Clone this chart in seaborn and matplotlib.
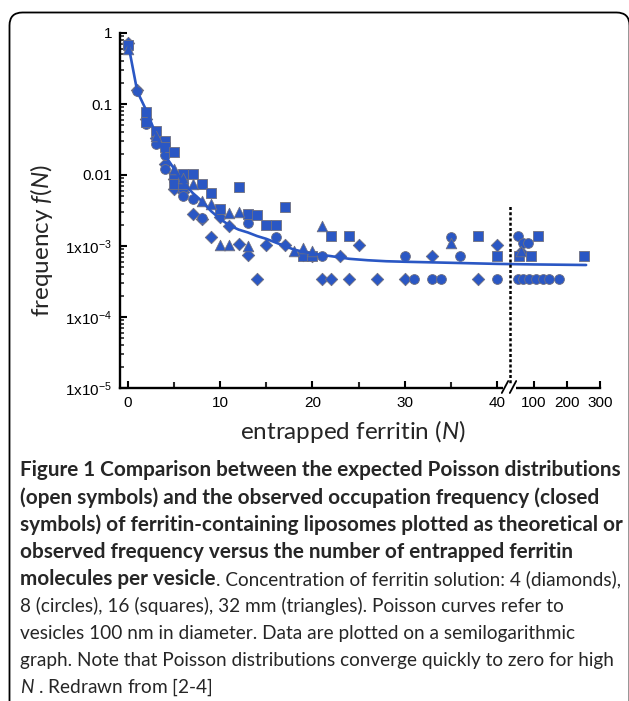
import numpy as np
import pandas as pd
import matplotlib
matplotlib.use("Agg")
import matplotlib.pyplot as plt
import seaborn as sns
from matplotlib.patches import FancyBboxPatch, Rectangle
from matplotlib.lines import Line2D
from matplotlib.transforms import IdentityTransform
from matplotlib.ticker import LogLocator, NullFormatter

# ---------------- data ----------------
diamond_n = [0, 1, 2, 3, 4, 5, 5, 6, 6, 7, 8, 9, 10, 11, 12, 13, 14, 15, 17, 19, 20,
             21, 22, 23, 24, 25, 27, 30, 33, 38, 40, 61]
diamond_f = [0.72, 0.155, 0.062, 0.033, 0.0142, 0.0088, 0.0063, 0.0058, 0.0068, 0.0028,
             0.0024, 0.00135, 0.0026, 0.0019, 0.00105, 0.00074, 0.00034, 0.00103,
             0.00103, 0.00075, 0.00072, 0.00034, 0.00034, 0.00072, 0.00034, 0.00103,
             0.00034, 0.00034, 0.00072, 0.00034, 0.00103, 0.00082]

circle_n = [0, 1, 2, 3, 4, 4, 5, 6, 6, 7, 8, 13, 16, 20, 21, 30, 31, 33, 34, 35, 36, 40,
            51, 66, 81, 53, 68, 86, 106, 128, 146, 177]
circle_f = [0.64, 0.15, 0.052, 0.027, 0.019, 0.012, 0.0085, 0.0064, 0.005, 0.0046,
            0.0025, 0.0021, 0.00135, 0.00072, 0.00072, 0.00072, 0.00034, 0.00034,
            0.00034, 0.00135, 0.00072, 0.00034, 0.0014, 0.00112, 0.00112, 0.00034,
            0.00034, 0.00034, 0.00034, 0.00034, 0.00034, 0.00034]

square_n = [0, 2, 2, 3, 4, 4, 5, 5, 5, 6, 6, 7, 8, 9, 10, 12, 13, 14, 15, 16, 17, 19,
            20, 22, 24, 38, 40, 55, 91, 111, 252]
square_f = [0.68, 0.076, 0.055, 0.042, 0.030, 0.025, 0.021, 0.0093, 0.0075, 0.0104,
            0.0075, 0.0104, 0.0075, 0.0055, 0.0033, 0.0068, 0.0028, 0.0027, 0.0020,
            0.0020, 0.0035, 0.00072, 0.00072, 0.0014, 0.0014, 0.0014, 0.00072,
            0.00072, 0.00072, 0.0014, 0.00072]

triangle_n = [0, 3, 5, 6, 7, 8, 9, 10, 11, 11, 12, 13, 18, 19, 20, 21, 35, 60]
triangle_f = [0.6, 0.036, 0.012, 0.009, 0.0075, 0.0043, 0.0039, 0.00102, 0.00102,
              0.0029, 0.0030, 0.00099, 0.00085, 0.00095, 0.00085, 0.0019, 0.0011,
              0.00085]

curve_n = [0, 1, 2, 3, 4, 5, 6, 7, 8, 9, 10, 11, 12, 13, 14, 15, 16, 17, 18, 19, 20,
           22, 24, 26, 28, 30, 35, 40, 100, 258]
curve_f = [0.72, 0.15, 0.08, 0.038, 0.019, 0.0122, 0.0078, 0.0056, 0.0043, 0.0031,
           0.0024, 0.00195, 0.0017, 0.00155, 0.00138, 0.00126, 0.00112, 0.001, 0.00089,
           0.00083, 0.00078, 0.00072, 0.00066, 0.00063, 0.00061, 0.0006, 0.00058,
           0.00056, 0.00055, 0.00054]

x_ticks = [0, 10, 20, 30, 40, 100, 200, 300]
x_tick_labels = ["0", "10", "20", "30", "40", "100", "200", "300"]
x_minor_ticks = [5, 15, 25, 35]
y_ticks = [1e-5, 1e-4, 1e-3, 1e-2, 1e-1, 1]
y_tick_labels = [r"$\mathregular{1x10^{-5}}$", r"$\mathregular{1x10^{-4}}$",
                 r"$\mathregular{1x10^{-3}}$", "0.01", "0.1", "1"]

caption_bold = [
    "Figure 1 Comparison between the expected Poisson distributions",
    "(open symbols) and the observed occupation frequency (closed",
    "symbols) of ferritin-containing liposomes plotted as theoretical or",
    "observed frequency versus the number of entrapped ferritin",
]
caption_mixed_bold = "molecules per vesicle"
caption_mixed_regular = ". Concentration of ferritin solution: 4 (diamonds),"
caption_regular = [
    "8 (circles), 16 (squares), 32 mm (triangles). Poisson curves refer to",
    "vesicles 100 nm in diameter. Data are plotted on a semilogarithmic",
    "graph. Note that Poisson distributions converge quickly to zero for high",
    r"$N$ . Redrawn from [2-4]",
]

# ---------------- style ----------------
sns.set_style("ticks")
plt.rcParams["font.family"] = ["Liberation Sans", "DejaVu Sans"]
plt.rcParams["mathtext.fontset"] = "custom"
plt.rcParams["mathtext.rm"] = "Lato"
plt.rcParams["mathtext.it"] = "Lato:italic"
plt.rcParams["mathtext.bf"] = "Lato:bold"

BLUE = "#2A57C4"
EDGE = "#6f7080"
W_PX, H_PX = 629, 701

fig = plt.figure(figsize=(W_PX / 100, H_PX / 100), dpi=100)
fig.patch.set_facecolor("white")

ax_left, ax_right, ax_top, ax_bottom = 120.5, 600.0, 33.0, 388.0
ax = fig.add_axes([ax_left / W_PX, 1 - ax_bottom / H_PX,
                   (ax_right - ax_left) / W_PX, (ax_bottom - ax_top) / H_PX])
ax.set_facecolor("white")

# ---------------- marks ----------------
frames = {
    "D": (pd.DataFrame({"N": diamond_n, "f": diamond_f}), 40),
    "o": (pd.DataFrame({"N": circle_n, "f": circle_f}), 50),
    "s": (pd.DataFrame({"N": square_n, "f": square_f}), 47),
    "^": (pd.DataFrame({"N": triangle_n, "f": triangle_f}), 58),
}
for mk, (df, s) in frames.items():
    sns.scatterplot(data=df, x="N", y="f", marker=mk, s=s, color=BLUE,
                    edgecolor=EDGE, linewidth=0.6, ax=ax, zorder=3, legend=False)

curve = pd.DataFrame({"N": curve_n, "f": curve_f})
sns.lineplot(data=curve, x="N", y="f", estimator=None, sort=False, color=BLUE,
             lw=1.9, ax=ax, zorder=4, legend=False)

# ---------------- scales (broken x axis) ----------------
XB = 41.94


def fwd(x):
    x = np.asarray(x, dtype=float)
    return np.where(x <= XB, x, 44.02 + (x - 100.0) * 0.03587)


def inv(u):
    u = np.asarray(u, dtype=float)
    return np.where(u <= XB, u, 100.0 + (u - 44.02) / 0.03587)


ax.set_xscale("function", functions=(fwd, inv))
ax.set_yscale("log")
ax.set_xlim(-0.82, 300)
ax.set_ylim(1e-5, 1)

ax.set_xticks(x_ticks)
ax.set_xticklabels(x_tick_labels)
ax.set_xticks(x_minor_ticks, minor=True)
ax.set_yticks(y_ticks)
ax.set_yticklabels(y_tick_labels)
ax.yaxis.set_minor_locator(LogLocator(base=10, subs=np.arange(2, 10), numticks=20))
ax.yaxis.set_minor_formatter(NullFormatter())

for side in ("top", "right"):
    ax.spines[side].set_visible(False)
for side in ("left", "bottom"):
    ax.spines[side].set_linewidth(1.7)
    ax.spines[side].set_color("black")

ax.tick_params(axis="both", which="major", direction="in", length=5.2, width=1.5,
               colors="black", labelsize=11, pad=6)
ax.tick_params(axis="x", which="minor", direction="in", length=4.0, width=1.5)
ax.tick_params(axis="y", which="minor", direction="in", length=2.6, width=1.2)
ax.set_xlabel("")
ax.set_ylabel("")
ax.grid(False)

# dotted separator at the axis break
ax.axvline(41.4, ymin=0, ymax=0.515, color="black", lw=1.8,
           linestyle=(0, (1.2, 0.9)), zorder=5)

# axis break marks (pixel coordinates, y measured from the top)
ident = IdentityTransform()
ybr = H_PX - 387
fig.add_artist(Rectangle((502.5, ybr - 2.5), 13, 5, transform=ident,
                         facecolor="white", edgecolor="none", zorder=10))
for cx in (505.0, 513.0):
    fig.add_artist(Line2D([cx - 3.2, cx + 3.2], [ybr - 6, ybr + 6], transform=ident,
                          color="black", lw=1.3, zorder=11))

# axis labels
fig.text(42 / W_PX, 1 - 241 / H_PX, r"frequency $f$($N$)", rotation=90,
         ha="center", va="center", fontsize=17.5, family=["Lato", "DejaVu Sans"])
fig.text(353 / W_PX, 1 - 432 / H_PX, r"entrapped ferritin ($N$)",
         ha="center", va="center", fontsize=17.5, family=["Lato", "DejaVu Sans"])

# ---------------- caption ----------------
renderer = fig.canvas.get_renderer()


def text_width(txt, **kw):
    t = fig.text(0, 0, txt, fontsize=12, **kw)
    w = t.get_window_extent(renderer).width
    t.remove()
    return w


fam = ["Lato", "DejaVu Sans"]
size_b = 12 * 598 / text_width(caption_bold[0], family=fam, weight="bold")
size_r = 12 * 595 / text_width(caption_regular[2], family=fam)

x0 = 20 / W_PX
baselines = [476, 504, 531, 558, 585, 612, 639, 666, 693]
for i, line in enumerate(caption_bold):
    fig.text(x0, 1 - baselines[i] / H_PX, line, family=fam, weight="bold",
             fontsize=size_b, va="baseline", ha="left")
tb = fig.text(x0, 1 - baselines[4] / H_PX, caption_mixed_bold, family=fam,
              weight="bold", fontsize=size_b, va="baseline", ha="left")
bb = tb.get_window_extent(renderer)
fig.text((bb.x1 + 0.5) / W_PX, 1 - baselines[4] / H_PX, caption_mixed_regular,
         family=fam, fontsize=size_r, va="baseline", ha="left")
for j, line in enumerate(caption_regular):
    fig.text(x0, 1 - baselines[5 + j] / H_PX, line, family=fam, fontsize=size_r,
             va="baseline", ha="left")

# rounded frame (cut off at the right and bottom, as in the reference)
fig.add_artist(FancyBboxPatch((9.5, -40), 620, H_PX - 12.5 + 40,
                              boxstyle="round,pad=0,rounding_size=13",
                              transform=ident, facecolor="none",
                              edgecolor="black", lw=1.3, zorder=12))

fig.savefig("out.png", dpi=100, facecolor="white")
